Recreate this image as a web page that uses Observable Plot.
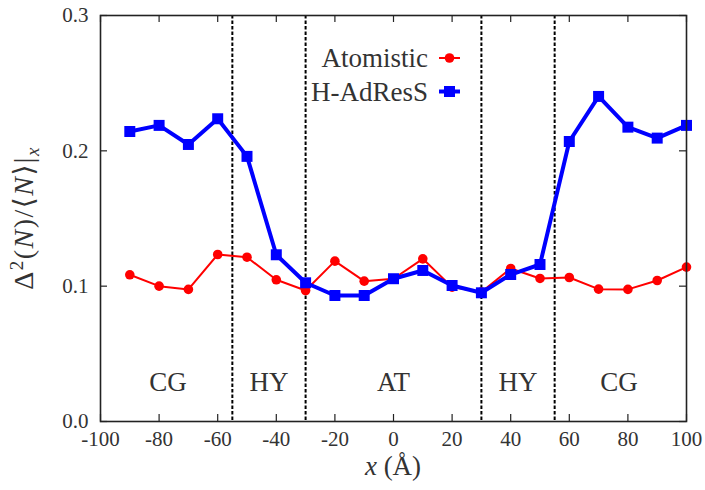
<!DOCTYPE html>
<html><head><meta charset="utf-8">
<script src="https://cdn.jsdelivr.net/npm/d3@7"></script>
<script src="https://cdn.jsdelivr.net/npm/@observablehq/plot@0.6"></script>
<style>
body{margin:0;background:#fff}
#chart{position:relative;width:705px;height:490px}
</style>
</head><body><div id="chart"></div>
<script>
// ---- data ----
const xPositions = [-90,-80,-70,-60,-50,-40,-30,-20,-10,0,10,20,30,40,50,60,70,80,90,100];
const atomistic  = [0.1084,0.1000,0.0976,0.1234,0.1214,0.1047,0.0968,0.1185,0.1037,0.1055,0.1202,0.0993,0.0956,0.1131,0.1057,0.1064,0.0978,0.0976,0.1042,0.1141];
const hadress    = [0.2143,0.2188,0.2047,0.2237,0.1959,0.1232,0.1025,0.0931,0.0931,0.1055,0.1116,0.1005,0.0951,0.1086,0.1160,0.2069,0.2402,0.2175,0.2094,0.2188];
const seriesNames  = ["Atomistic","H-AdResS"];
const seriesColors = ["#ff0000","#0000ff"];
const boundaries   = [-55,-30,30,55];
const regionNames  = ["CG","HY","AT","HY","CG"];
const regionCenters = [-77,-42.5,0,42.5,77];
const regionLabelY = 0.029;
const xTicks = [-100,-80,-60,-40,-20,0,20,40,60,80,100];
const yTicks = [0.0,0.1,0.2,0.3];

// ---- layout ----
const W = 705, H = 490;
const mL = 100, mR = 19, mT = 15, mB = 69;
const plotW = W - mL - mR, plotH = H - mT - mB;
const FONT = "Liberation Serif, DejaVu Serif, serif";
const TEXT = "#333";

const atomRows = xPositions.map((x,i)=>({x, v: atomistic[i]}));
const hadRows  = xPositions.map((x,i)=>({x, v: hadress[i]}));
const regions  = regionNames.map((n,i)=>({n, x: regionCenters[i], y: regionLabelY}));

const chart = Plot.plot({
  width: W, height: H,
  marginLeft: mL, marginRight: mR, marginTop: mT, marginBottom: mB,
  style: {fontFamily: FONT, fontSize: "21px", color: TEXT, background: "#fff"},
  x: {domain: [-100,100]},
  y: {domain: [0,0.3]},
  marks: [
    Plot.ruleX(boundaries, {x: d=>d, stroke: "#000", strokeWidth: 2, strokeDasharray: "3.5,2"}),
    Plot.text(regions, {x: "x", y: "y", text: "n", fontSize: 27, fill: TEXT, lineAnchor: "middle", fontFamily: FONT}),
    Plot.line(atomRows, {x: "x", y: "v", stroke: seriesColors[0], strokeWidth: 2}),
    Plot.dot(atomRows, {x: "x", y: "v", r: 4.8, fill: seriesColors[0], stroke: "none"}),
    Plot.line(hadRows, {x: "x", y: "v", stroke: seriesColors[1], strokeWidth: 4}),
    Plot.dot(hadRows, {x: "x", y: "v", symbol: "square", r: 6.2, fill: seriesColors[1], stroke: "none"}),
    // inward ticks
    Plot.ruleX(xTicks, {x: d=>d, insetTop: plotH - 7, stroke: "#222", strokeWidth: 1.2}),
    Plot.ruleX(xTicks, {x: d=>d, insetBottom: plotH - 7, stroke: "#222", strokeWidth: 1.2}),
    Plot.ruleY(yTicks, {y: d=>d, insetRight: plotW - 7, stroke: "#222", strokeWidth: 1.2}),
    Plot.ruleY(yTicks, {y: d=>d, insetLeft: plotW - 7, stroke: "#222", strokeWidth: 1.2}),
    Plot.frame({stroke: "#222", strokeWidth: 1.6}),
    Plot.axisX(xTicks, {tickSize: 0, tickPadding: 10, tickFormat: d=>String(d), label: null, fill: TEXT, fontFamily: FONT}),
    Plot.axisY(yTicks, {tickSize: 0, tickPadding: 12, tickFormat: d=>d.toFixed(1), label: null, fill: TEXT, fontFamily: FONT})
  ]
});
document.getElementById("chart").appendChild(chart);

const svg = d3.select(chart);

// y-axis label: Δ²(N)/⟨N⟩|x
const yl = svg.append("text")
  .attr("transform", `translate(33,${mT + plotH/2}) rotate(-90)`)
  .attr("text-anchor", "middle")
  .style("font-family", FONT).attr("font-size", 28).attr("fill", TEXT)
  .attr("letter-spacing", 1.5);
yl.append("tspan").text("Δ");
yl.append("tspan").attr("dy", -10).attr("font-size", 19).text("2");
yl.append("tspan").attr("dy", 10).text("(");
yl.append("tspan").attr("font-style", "italic").text("N");
yl.append("tspan").text(")/⟨");
yl.append("tspan").attr("font-style", "italic").text("N");
yl.append("tspan").text("⟩|");
yl.append("tspan").attr("dy", 6).attr("font-size", 19).attr("font-style", "italic").text("x");

// x-axis label
const xl = svg.append("text")
  .attr("x", mL + plotW/2).attr("y", 475)
  .attr("text-anchor", "middle")
  .style("font-family", FONT).attr("font-size", 27).attr("fill", TEXT);
xl.append("tspan").attr("font-style", "italic").text("x");
xl.append("tspan").text(" (Å)");

// legend
const lg = svg.append("g").style("font-family", FONT).attr("font-size", 27).attr("fill", TEXT);
seriesNames.forEach((name, i) => {
  const cy = 58 + i * 33.5;
  lg.append("text").attr("x", 428).attr("y", cy + 9).attr("text-anchor", "end").text(name);
  lg.append("line").attr("x1", 439).attr("x2", 460).attr("y1", cy).attr("y2", cy)
    .attr("stroke", seriesColors[i]).attr("stroke-width", i === 0 ? 2 : 4);
  if (i === 0) {
    lg.append("circle").attr("cx", 449.5).attr("cy", cy).attr("r", 4.8).attr("fill", seriesColors[i]);
  } else {
    lg.append("rect").attr("x", 449.5 - 5.5).attr("y", cy - 5.5).attr("width", 11).attr("height", 11).attr("fill", seriesColors[i]);
  }
});
</script>
</body></html>
